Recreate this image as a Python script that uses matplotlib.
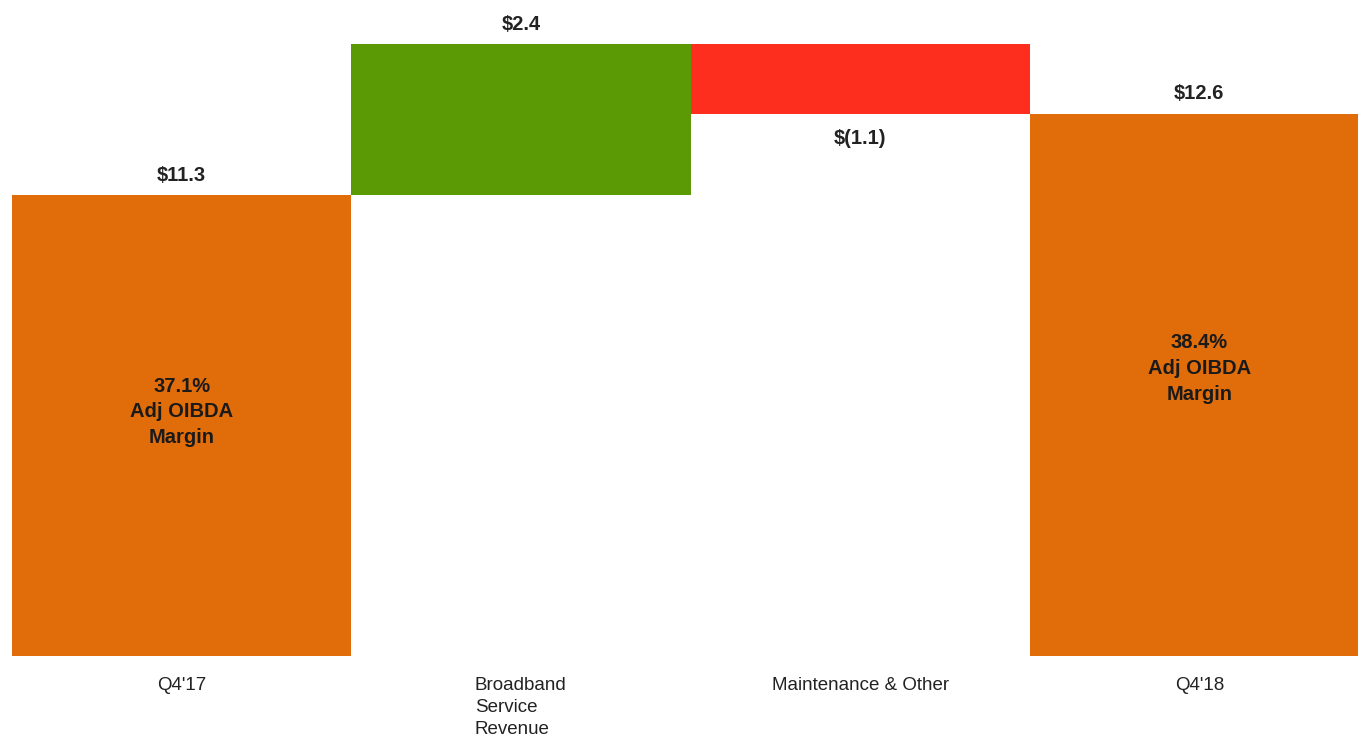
import matplotlib.pyplot as plt

plt.rcParams['font.family'] = ['Liberation Sans', 'DejaVu Sans']

categories = ["Q4'17", "Broadband\nService\nRevenue", "Maintenance & Other", "Q4'18"]
changes = [11.3, 2.4, -1.1, 12.6]
kinds = ['total', 'delta', 'delta', 'total']
value_labels = ["$11.3", "$2.4", "$(1.1)", "$12.6"]
inner_labels = {0: "37.1%\nAdj OIBDA\nMargin", 3: "38.4%\nAdj OIBDA\nMargin"}

orange = '#E16C0A'
green = '#5B9A04'
red = '#FE2E1E'
y_floor = 3.99

fig = plt.figure(figsize=(13.58, 7.37), dpi=100)
ax = fig.add_axes([12 / 1358, 81 / 737, 1357 / 1358, 656 / 737])

running = 0
for i, (c, k) in enumerate(zip(changes, kinds)):
    if k == 'total':
        bottom, height = 0, c
        running = c
        col = orange
    else:
        bottom = running if c > 0 else running + c
        height = abs(c)
        col = green if c > 0 else red
        running += c
    ax.bar(i, height, bottom=bottom, width=1.0, color=col, linewidth=0)
    top = bottom + height
    if k == 'delta' and c < 0:
        ax.annotate(value_labels[i], (i, bottom), xytext=(0, -18), textcoords='offset points',
                    ha='center', va='center', fontsize=14.5, fontweight='bold', color='#222222')
    else:
        ax.annotate(value_labels[i], (i, top), xytext=(0, 14.5), textcoords='offset points',
                    ha='center', va='center', fontsize=14.5, fontweight='bold', color='#222222')
    if i in inner_labels:
        ymid = y_floor + 0.53 * (top - y_floor)
        ax.text(i, ymid, inner_labels[i], ha='center', va='center', fontsize=14.5,
                fontweight='bold', color='#1a1a1a', linespacing=1.45)

ax.set_xlim(-0.5, 3.5)
ax.set_ylim(y_floor, y_floor + 656 / 63)
ax.set_xticks(range(len(categories)))
ax.set_xticklabels(categories, fontsize=13.5, color='#222222', va='top',
                   multialignment='left', linespacing=1.4)
ax.tick_params(axis='x', length=0, pad=15)
ax.set_yticks([])
for s in ax.spines.values():
    s.set_visible(False)

fig.savefig('out.png', dpi=100)
